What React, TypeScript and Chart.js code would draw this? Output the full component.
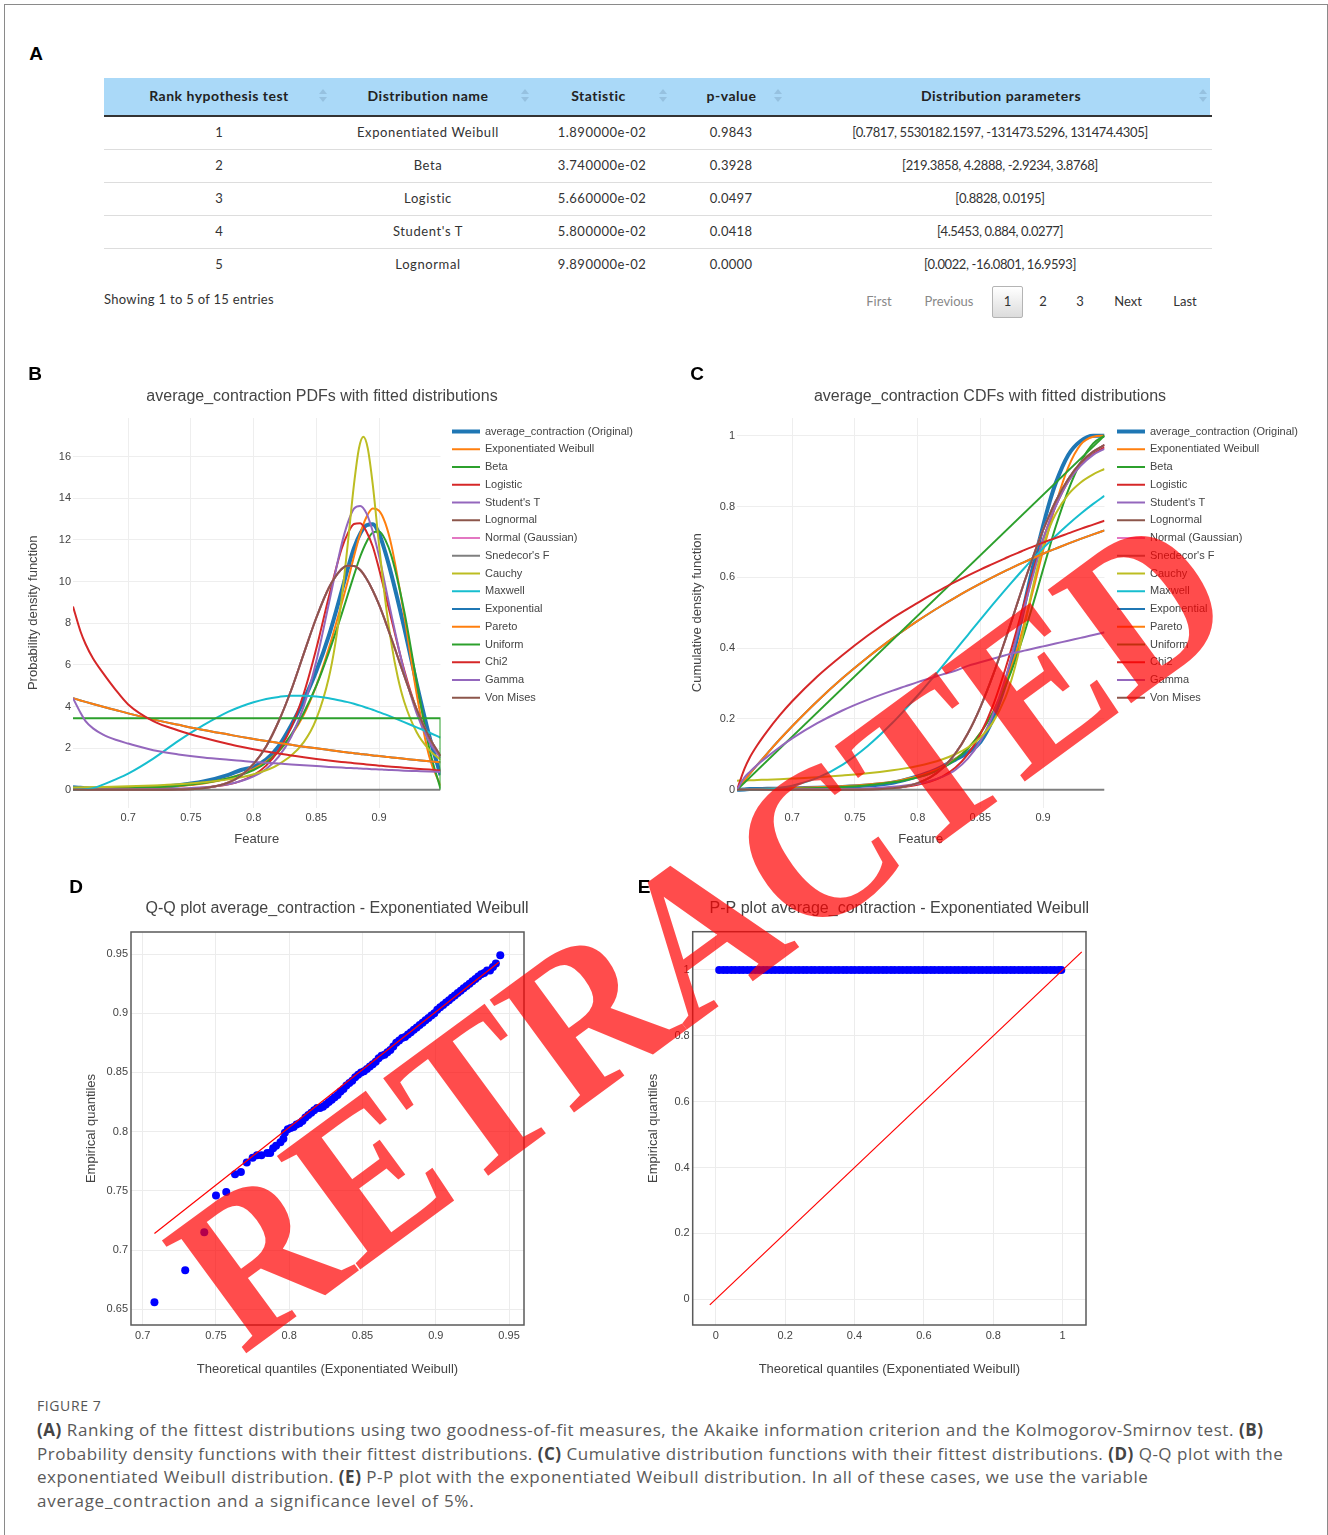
import React, { useEffect, useRef } from 'react';
import { Chart, registerables } from 'chart.js';

Chart.register(...registerables);

const SANS = '"Liberation Sans", Arial, Helvetica, sans-serif';
const TABLE_FONT = 'Lato, "Open Sans", sans-serif';
const CAPTION_FONT = '"Open Sans", Lato, sans-serif';

Chart.defaults.font.family = SANS;
Chart.defaults.color = '#444';

/* ---------------- Panel A: ranking table ---------------- */
const TABLE_HEADERS = ['Rank hypothesis test', 'Distribution name', 'Statistic', 'p-value', 'Distribution parameters'];
const TABLE_RANKS = ['1', '2', '3', '4', '5'];
const TABLE_NAMES = ['Exponentiated Weibull', 'Beta', 'Logistic', "Student's T", 'Lognormal'];
const TABLE_STATISTICS = ['1.890000e-02', '3.740000e-02', '5.660000e-02', '5.800000e-02', '9.890000e-02'];
const TABLE_PVALUES = ['0.9843', '0.3928', '0.0497', '0.0418', '0.0000'];
const TABLE_PARAMETERS = [
  '[0.7817, 5530182.1597, -131473.5296, 131474.4305]',
  '[219.3858, 4.2888, -2.9234, 3.8768]',
  '[0.8828, 0.0195]',
  '[4.5453, 0.884, 0.0277]',
  '[0.0022, -16.0801, 16.9593]',
];
const TABLE_INFO = 'Showing 1 to 5 of 15 entries';
const PAGINATION = ['First', 'Previous', '1', '2', '3', 'Next', 'Last'];

/* ---------------- Panels B & C: fitted distributions ---------------- */
const SERIES_NAMES = [
  'average_contraction (Original)', 'Exponentiated Weibull', 'Beta', 'Logistic', "Student's T", 'Lognormal',
  'Normal (Gaussian)', "Snedecor's F", 'Cauchy', 'Maxwell', 'Exponential', 'Pareto', 'Uniform', 'Chi2', 'Gamma', 'Von Mises',
];
const SERIES_COLORS = [
  '#1f77b4', '#ff7f0e', '#2ca02c', '#d62728', '#9467bd', '#8c564b', '#e377c2', '#7f7f7f',
  '#bcbd22', '#17becf', '#1f77b4', '#ff7f0e', '#2ca02c', '#d62728', '#9467bd', '#8c564b',
];

const GRID_X = [0.656, 0.662, 0.666, 0.672, 0.68, 0.69, 0.70, 0.72, 0.74, 0.76, 0.78, 0.79, 0.80, 0.81, 0.82, 0.83,
  0.84, 0.85, 0.86, 0.87, 0.875, 0.88, 0.885, 0.89, 0.895, 0.90, 0.905, 0.91, 0.92, 0.93, 0.94, 0.949];
const FLAT_X = [0.656, 0.949];
const UNIFORM_PDF_X = [0.656, 0.949, 0.949];
const CAUCHY_PDF_X = [0.656, 0.68, 0.70, 0.72, 0.74, 0.76, 0.78, 0.80, 0.82, 0.84, 0.85, 0.86, 0.865, 0.87, 0.875,
  0.88, 0.884, 0.8875, 0.891, 0.895, 0.90, 0.905, 0.91, 0.915, 0.92, 0.93, 0.94, 0.949];

const PDF_ORIGINAL = [0.12, 0.1, 0.08, 0.06, 0.05, 0.05, 0.06, 0.12, 0.22, 0.4, 0.72, 0.95, 1.1, 1.45, 2.1, 3.1,
  4.3, 5.7, 7.4, 9.5, 10.6, 11.6, 12.3, 12.7, 12.75, 12.3, 11.4, 10.3, 7.8, 5.1, 2.6, 0.7];
const PDF_EXP_WEIBULL = [0.08, 0.08, 0.08, 0.08, 0.09, 0.09, 0.1, 0.12, 0.18, 0.3, 0.55, 0.75, 1.0, 1.35, 1.85, 2.6,
  3.6, 5.0, 6.8, 8.9, 10.0, 11.2, 12.3, 13.1, 13.5, 13.4, 12.8, 11.7, 8.4, 4.6, 1.6, 0.2];
const PDF_BETA = [0.05, 0.05, 0.05, 0.05, 0.06, 0.07, 0.08, 0.12, 0.2, 0.32, 0.55, 0.72, 0.95, 1.3, 1.85, 2.65,
  3.7, 5.0, 6.6, 8.4, 9.35, 10.3, 11.2, 11.9, 12.35, 12.4, 12.0, 11.2, 8.6, 5.2, 2.0, 0.05];
const PDF_LOGISTIC = [0, 0, 0, 0, 0.001, 0.002, 0.004, 0.012, 0.034, 0.095, 0.26, 0.43, 0.71, 1.16, 1.9, 3.0,
  4.62, 6.78, 9.27, 11.54, 12.3, 12.76, 12.8, 12.39, 11.68, 10.6, 9.4, 8.16, 5.76, 3.84, 2.47, 1.62];
const PDF_STUDENT_T = [0.006, 0.007, 0.008, 0.009, 0.011, 0.014, 0.019, 0.035, 0.06, 0.12, 0.27, 0.42, 0.64, 1.0, 1.59, 2.55,
  4.02, 6.18, 8.94, 11.74, 12.8, 13.5, 13.63, 13.27, 12.4, 11.22, 9.8, 8.36, 5.69, 3.67, 2.31, 1.52];
const PDF_NORMAL = [0, 0, 0, 0, 0, 0, 0, 0.001, 0.011, 0.073, 0.35, 0.68, 1.24, 2.08, 3.29, 4.79,
  6.54, 8.26, 9.7, 10.59, 10.76, 10.75, 10.55, 10.13, 9.57, 8.89, 8.09, 7.24, 5.49, 3.86, 2.53, 1.62];
const PDF_LOGNORMAL = PDF_NORMAL;
const PDF_VON_MISES = PDF_NORMAL;
const PDF_SNEDECOR_F = [0, 0];
const PDF_CAUCHY = [0.11, 0.135, 0.168, 0.21, 0.27, 0.36, 0.5, 0.745, 1.22, 2.29, 3.4, 5.39, 6.97, 9.08, 11.76,
  14.65, 16.4, 16.95, 16.4, 14.65, 11.76, 9.08, 6.97, 5.39, 4.24, 2.76, 1.92, 1.44];
const PDF_MAXWELL = [0, 0.01, 0.03, 0.08, 0.25, 0.5, 0.78, 1.5, 2.35, 3.1, 3.75, 4.0, 4.2, 4.36, 4.46, 4.52,
  4.52, 4.48, 4.4, 4.28, 4.21, 4.13, 4.04, 3.94, 3.84, 3.73, 3.62, 3.5, 3.25, 3.0, 2.75, 2.5];
const PDF_EXPONENTIAL = [4.4, 4.29, 4.22, 4.12, 3.99, 3.83, 3.67, 3.38, 3.12, 2.87, 2.65, 2.54, 2.44, 2.34, 2.25, 2.16,
  2.07, 1.99, 1.91, 1.83, 1.79, 1.76, 1.72, 1.69, 1.65, 1.62, 1.59, 1.55, 1.49, 1.43, 1.37, 1.32];
const PDF_PARETO = PDF_EXPONENTIAL;
const PDF_UNIFORM = [3.43, 3.43, 0];
const PDF_CHI2 = [8.8, 7.6, 7.0, 6.3, 5.6, 4.8, 4.1, 3.3, 2.85, 2.5, 2.2, 2.07, 1.95, 1.84, 1.74, 1.65,
  1.56, 1.48, 1.41, 1.34, 1.31, 1.28, 1.25, 1.22, 1.19, 1.16, 1.13, 1.11, 1.06, 1.01, 0.97, 0.93];
const PDF_GAMMA = [4.4, 3.7, 3.3, 2.95, 2.65, 2.4, 2.22, 1.9, 1.7, 1.55, 1.44, 1.39, 1.34, 1.3, 1.26, 1.22,
  1.18, 1.14, 1.1, 1.07, 1.05, 1.04, 1.02, 1.01, 0.99, 0.98, 0.96, 0.95, 0.92, 0.9, 0.88, 0.86];

const CDF_ORIGINAL = [0, 0.001, 0.002, 0.002, 0.003, 0.003, 0.004, 0.006, 0.008, 0.012, 0.02, 0.028, 0.038, 0.05, 0.066, 0.085,
  0.105, 0.135, 0.2, 0.3, 0.365, 0.44, 0.52, 0.6, 0.675, 0.745, 0.81, 0.865, 0.945, 0.985, 1.0, 1.0];
const CDF_EXP_WEIBULL = [0, 0.001, 0.001, 0.002, 0.003, 0.004, 0.005, 0.007, 0.01, 0.015, 0.023, 0.03, 0.038, 0.05, 0.065, 0.087,
  0.117, 0.16, 0.22, 0.3, 0.35, 0.405, 0.47, 0.535, 0.605, 0.675, 0.74, 0.805, 0.91, 0.975, 0.997, 1.0];
const CDF_BETA = [0, 0, 0.001, 0.001, 0.002, 0.002, 0.003, 0.005, 0.008, 0.013, 0.021, 0.027, 0.035, 0.046, 0.062, 0.085,
  0.116, 0.16, 0.218, 0.293, 0.338, 0.388, 0.442, 0.5, 0.56, 0.622, 0.683, 0.742, 0.845, 0.925, 0.978, 1.0];
const CDF_LOGISTIC = [0, 0, 0, 0, 0, 0, 0.0001, 0.0002, 0.0007, 0.0018, 0.005, 0.0085, 0.014, 0.023, 0.038, 0.062,
  0.1, 0.157, 0.237, 0.342, 0.401, 0.464, 0.528, 0.591, 0.652, 0.707, 0.757, 0.801, 0.871, 0.918, 0.949, 0.967];
const CDF_STUDENT_T = [0.0003, 0.0003, 0.0004, 0.0004, 0.0005, 0.0006, 0.0008, 0.0013, 0.0022, 0.004, 0.0085, 0.012, 0.017, 0.025, 0.037, 0.056,
  0.088, 0.137, 0.212, 0.315, 0.378, 0.446, 0.514, 0.58, 0.643, 0.705, 0.757, 0.8, 0.87, 0.915, 0.946, 0.963];
const CDF_NORMAL = [0, 0, 0, 0, 0, 0, 0, 0, 0.0001, 0.0008, 0.0044, 0.0094, 0.0188, 0.0352, 0.0618, 0.102,
  0.159, 0.233, 0.323, 0.425, 0.478, 0.532, 0.586, 0.637, 0.687, 0.733, 0.775, 0.814, 0.877, 0.924, 0.955, 0.974];
const CDF_LOGNORMAL = CDF_NORMAL;
const CDF_VON_MISES = CDF_NORMAL;
const CDF_SNEDECOR_F = [0, 0];
const CDF_CAUCHY = [0.0257, 0.0264, 0.0268, 0.0276, 0.0286, 0.03, 0.0317, 0.0355, 0.0404, 0.0464, 0.055, 0.0605, 0.0672, 0.0755, 0.0863, 0.1003,
  0.1194, 0.1476, 0.1904, 0.2609, 0.3128, 0.3789, 0.4578, 0.5423, 0.6211, 0.6872, 0.7391, 0.7789, 0.8336, 0.868, 0.8909, 0.906];
const CDF_MAXWELL = [0, 0, 0.0001, 0.0004, 0.0016, 0.0053, 0.0115, 0.0335, 0.0706, 0.1232, 0.1893, 0.2268, 0.2663, 0.3076, 0.3502, 0.3935,
  0.4371, 0.4806, 0.5234, 0.5653, 0.5858, 0.606, 0.6256, 0.6449, 0.6636, 0.6819, 0.6996, 0.7168, 0.7494, 0.7796, 0.8074, 0.8302];
const CDF_EXPONENTIAL = [0, 0.0266, 0.044, 0.0695, 0.1024, 0.1419, 0.1796, 0.2502, 0.3147, 0.3737, 0.4276, 0.4528, 0.4769, 0.5, 0.5219, 0.5429,
  0.5631, 0.5823, 0.6007, 0.6183, 0.6267, 0.635, 0.6432, 0.6511, 0.6589, 0.6665, 0.6739, 0.6811, 0.6952, 0.7086, 0.7214, 0.7325];
const CDF_PARETO = CDF_EXPONENTIAL;
const CDF_UNIFORM = [0, 1];
const CDF_CHI2 = [0, 0.06, 0.09, 0.125, 0.165, 0.21, 0.25, 0.32, 0.38, 0.435, 0.485, 0.507, 0.528, 0.549, 0.568, 0.587,
  0.605, 0.622, 0.638, 0.654, 0.662, 0.669, 0.677, 0.684, 0.691, 0.698, 0.705, 0.711, 0.724, 0.737, 0.749, 0.76];
const CDF_GAMMA = [0, 0.035, 0.05, 0.07, 0.093, 0.12, 0.145, 0.188, 0.224, 0.254, 0.28, 0.292, 0.304, 0.315, 0.326, 0.336,
  0.35, 0.36, 0.37, 0.38, 0.385, 0.389, 0.393, 0.397, 0.401, 0.405, 0.409, 0.413, 0.421, 0.429, 0.437, 0.445];

const DENSITY_X_TICKS = [0.7, 0.75, 0.8, 0.85, 0.9];
const PDF_Y_TICKS = [0, 2, 4, 6, 8, 10, 12, 14, 16];
const CDF_Y_TICKS = [0, 0.2, 0.4, 0.6, 0.8, 1];

/* ---------------- Panels D & E: Q-Q and P-P ---------------- */
const QQ_POINTS = [
  [0.708, 0.656], [0.729, 0.683], [0.742, 0.715], [0.750, 0.746], [0.757, 0.749], [0.763, 0.764], [0.767, 0.766],
  [0.771, 0.774], [0.775, 0.778], [0.778, 0.780], [0.781, 0.780], [0.785, 0.782], [0.787, 0.782], [0.789, 0.786],
  [0.791, 0.788], [0.794, 0.791], [0.796, 0.794], [0.797, 0.799], [0.799, 0.802], [0.801, 0.803], [0.803, 0.804],
  [0.805, 0.806], [0.807, 0.807], [0.809, 0.809], [0.811, 0.812], [0.813, 0.814], [0.815, 0.816], [0.817, 0.818],
  [0.819, 0.820], [0.821, 0.820], [0.823, 0.821], [0.825, 0.823], [0.827, 0.825], [0.829, 0.827], [0.831, 0.829],
  [0.833, 0.831], [0.835, 0.834], [0.837, 0.836], [0.839, 0.839], [0.841, 0.841], [0.843, 0.843], [0.845, 0.846],
  [0.847, 0.848], [0.849, 0.850], [0.851, 0.851], [0.853, 0.853], [0.855, 0.855], [0.857, 0.857], [0.859, 0.859],
  [0.861, 0.862], [0.863, 0.864], [0.865, 0.865], [0.867, 0.867], [0.869, 0.869], [0.871, 0.872], [0.873, 0.875],
  [0.875, 0.877], [0.877, 0.879], [0.879, 0.880], [0.881, 0.882], [0.883, 0.884], [0.885, 0.886], [0.887, 0.888],
  [0.889, 0.890], [0.891, 0.892], [0.893, 0.894], [0.895, 0.896], [0.897, 0.898], [0.899, 0.900], [0.901, 0.903],
  [0.903, 0.905], [0.905, 0.907], [0.907, 0.909], [0.909, 0.911], [0.911, 0.913], [0.913, 0.915], [0.915, 0.917],
  [0.917, 0.919], [0.919, 0.921], [0.921, 0.923], [0.923, 0.925], [0.925, 0.927], [0.927, 0.929], [0.929, 0.931],
  [0.931, 0.933], [0.933, 0.934], [0.935, 0.936], [0.937, 0.936], [0.939, 0.939], [0.941, 0.942], [0.944, 0.949],
];
const QQ_LINE_X = [0.708, 0.943];
const QQ_LINE_Y = [0.714, 0.943];
const QQ_X_TICKS = [0.7, 0.75, 0.8, 0.85, 0.9, 0.95];
const QQ_Y_TICKS = [0.65, 0.7, 0.75, 0.8, 0.85, 0.9, 0.95];

const PP_POINTS = [
  [0.010, 1], [0.022, 1], [0.033, 1], [0.045, 1], [0.056, 1], [0.068, 1], [0.079, 1], [0.091, 1], [0.102, 1], [0.114, 1],
  [0.125, 1], [0.137, 1], [0.148, 1], [0.160, 1], [0.171, 1], [0.183, 1], [0.194, 1], [0.206, 1], [0.217, 1], [0.229, 1],
  [0.240, 1], [0.252, 1], [0.263, 1], [0.275, 1], [0.286, 1], [0.298, 1], [0.309, 1], [0.321, 1], [0.332, 1], [0.344, 1],
  [0.355, 1], [0.367, 1], [0.378, 1], [0.390, 1], [0.401, 1], [0.413, 1], [0.424, 1], [0.436, 1], [0.447, 1], [0.459, 1],
  [0.470, 1], [0.482, 1], [0.493, 1], [0.505, 1], [0.516, 1], [0.528, 1], [0.539, 1], [0.551, 1], [0.562, 1], [0.574, 1],
  [0.585, 1], [0.597, 1], [0.608, 1], [0.620, 1], [0.631, 1], [0.643, 1], [0.654, 1], [0.666, 1], [0.677, 1], [0.689, 1],
  [0.700, 1], [0.712, 1], [0.723, 1], [0.735, 1], [0.746, 1], [0.758, 1], [0.769, 1], [0.781, 1], [0.792, 1], [0.804, 1],
  [0.815, 1], [0.827, 1], [0.838, 1], [0.850, 1], [0.861, 1], [0.873, 1], [0.884, 1], [0.896, 1], [0.907, 1], [0.919, 1],
  [0.930, 1], [0.942, 1], [0.953, 1], [0.965, 1], [0.976, 1], [0.988, 1], [0.996, 1],
];
const PP_LINE_X = [-0.017, 1.055];
const PP_LINE_Y = [-0.017, 1.055];
const PP_X_TICKS = [0, 0.2, 0.4, 0.6, 0.8, 1];
const PP_Y_TICKS = [0, 0.2, 0.4, 0.6, 0.8, 1];

/* ---------------- helpers ---------------- */
type XY = { x: number; y: number };
const toPoints = (xs: number[], ys: number[]): XY[] => xs.map((x, i) => ({ x, y: ys[i] }));

const PDF_SERIES: [number[], number[]][] = [
  [GRID_X, PDF_ORIGINAL], [GRID_X, PDF_EXP_WEIBULL], [GRID_X, PDF_BETA], [GRID_X, PDF_LOGISTIC],
  [GRID_X, PDF_STUDENT_T], [GRID_X, PDF_LOGNORMAL], [GRID_X, PDF_NORMAL], [FLAT_X, PDF_SNEDECOR_F],
  [CAUCHY_PDF_X, PDF_CAUCHY], [GRID_X, PDF_MAXWELL], [GRID_X, PDF_EXPONENTIAL], [GRID_X, PDF_PARETO],
  [UNIFORM_PDF_X, PDF_UNIFORM], [GRID_X, PDF_CHI2], [GRID_X, PDF_GAMMA], [GRID_X, PDF_VON_MISES],
];
const CDF_SERIES: [number[], number[]][] = [
  [GRID_X, CDF_ORIGINAL], [GRID_X, CDF_EXP_WEIBULL], [GRID_X, CDF_BETA], [GRID_X, CDF_LOGISTIC],
  [GRID_X, CDF_STUDENT_T], [GRID_X, CDF_LOGNORMAL], [GRID_X, CDF_NORMAL], [FLAT_X, CDF_SNEDECOR_F],
  [GRID_X, CDF_CAUCHY], [GRID_X, CDF_MAXWELL], [GRID_X, CDF_EXPONENTIAL], [GRID_X, CDF_PARETO],
  [FLAT_X, CDF_UNIFORM], [GRID_X, CDF_CHI2], [GRID_X, CDF_GAMMA], [GRID_X, CDF_VON_MISES],
];

const decorPlugin = {
  id: 'decor',
  afterDraw(chart: any, _args: any, opts: any) {
    const ctx = chart.ctx;
    const a = chart.chartArea;
    ctx.save();
    if (opts.frame) {
      ctx.strokeStyle = '#5a5a5a';
      ctx.lineWidth = 1.5;
      ctx.strokeRect(a.left, a.top, a.right - a.left, a.bottom - a.top);
    }
    if (opts.title) {
      ctx.fillStyle = '#444';
      ctx.font = `16px ${SANS}`;
      ctx.textAlign = 'center';
      ctx.textBaseline = 'middle';
      ctx.fillText(opts.title.text, opts.title.x, opts.title.y);
    }
    if (opts.legend) {
      const L = opts.legend;
      ctx.font = `11px ${SANS}`;
      ctx.textAlign = 'left';
      ctx.textBaseline = 'middle';
      chart.data.datasets.forEach((ds: any, i: number) => {
        const y = L.y + i * L.step;
        ctx.strokeStyle = ds.borderColor;
        ctx.lineWidth = ds.borderWidth;
        ctx.beginPath();
        ctx.moveTo(L.x, y);
        ctx.lineTo(L.x + L.len, y);
        ctx.stroke();
        ctx.fillStyle = '#444';
        ctx.fillText(ds.label, L.x + L.len + L.gap, y);
      });
    }
    ctx.restore();
  },
};

const fixedTicks = (values: number[]) => (scale: any) => {
  scale.ticks = values.map((v) => ({ value: v }));
};

function axis(opts: {
  min: number; max: number; ticks: number[]; size: number; horizontal: boolean;
  title: string; titlePad: number; tickPad: number; gridColor: string;
}) {
  return {
    type: 'linear',
    min: opts.min,
    max: opts.max,
    bounds: 'data',
    afterBuildTicks: fixedTicks(opts.ticks),
    afterFit: (s: any) => {
      if (opts.horizontal) s.height = opts.size;
      else s.width = opts.size;
    },
    grid: { color: opts.gridColor, lineWidth: 1, drawTicks: false },
    border: { display: false },
    ticks: {
      padding: opts.tickPad,
      color: '#444',
      font: { family: SANS, size: 11 },
      maxRotation: 0,
      autoSkip: false,
      callback: (v: any) => String(v),
    },
    title: {
      display: true,
      text: opts.title,
      color: '#444',
      font: { family: SANS, size: 13 },
      padding: opts.horizontal ? { top: 0, bottom: opts.titlePad } : { top: opts.titlePad, bottom: 0 },
    },
  };
}

function densityConfig(series: [number[], number[]][], yMin: number, yMax: number, yTicks: number[],
  yTitle: string, title: string, titleX: number, legendX: number) {
  return {
    type: 'line',
    data: {
      datasets: series.map(([xs, ys], i) => {
        const smooth = xs.length > 3;
        return {
          label: SERIES_NAMES[i],
          data: toPoints(xs, ys),
          borderColor: SERIES_COLORS[i],
          backgroundColor: SERIES_COLORS[i],
          borderWidth: i === 0 ? 4 : 2,
          pointRadius: 0,
          pointHoverRadius: 0,
          fill: false,
          tension: 0,
          cubicInterpolationMode: smooth ? 'monotone' : 'default',
          order: series.length - i,
        };
      }),
    },
    options: {
      responsive: false,
      animation: false,
      devicePixelRatio: 1,
      events: [],
      layout: { padding: { left: 0, top: 38, right: 223.5, bottom: 0 } },
      plugins: {
        legend: { display: false },
        tooltip: { enabled: false },
        title: { display: false },
        decor: {
          title: { text: title, x: titleX, y: 17 },
          legend: { x: legendX, y: 51.5, step: 17.75, len: 28, gap: 5 },
        },
      },
      scales: {
        x: axis({ min: 0.656, max: 0.949, ticks: DENSITY_X_TICKS, size: 42.5, horizontal: true,
          title: 'Feature', titlePad: 2.9, tickPad: 4, gridColor: '#eeeeee' }),
        y: axis({ min: yMin, max: yMax, ticks: yTicks, size: 73, horizontal: false,
          title: yTitle, titlePad: 25.2, tickPad: 2, gridColor: '#eeeeee' }),
      },
    },
    plugins: [decorPlugin],
  };
}

function probConfig(points: number[][], lineX: number[], lineY: number[], xr: [number, number], yr: [number, number],
  xTicks: number[], yTicks: number[], title: string, titleX: number, pad: { top: number; right: number },
  yWidth: number, yTitlePad: number) {
  return {
    type: 'scatter',
    data: {
      datasets: [
        {
          label: 'reference line',
          data: toPoints(lineX, lineY),
          showLine: true,
          borderColor: '#ff0000',
          backgroundColor: '#ff0000',
          borderWidth: 1.2,
          pointRadius: 0,
          pointHoverRadius: 0,
        },
        {
          label: 'quantiles',
          data: points.map(([x, y]) => ({ x, y })),
          backgroundColor: '#0000ff',
          borderColor: '#0000ff',
          borderWidth: 0,
          pointRadius: 4,
          pointHoverRadius: 4,
        },
      ],
    },
    options: {
      responsive: false,
      animation: false,
      devicePixelRatio: 1,
      events: [],
      layout: { padding: { left: 0, top: pad.top, right: pad.right, bottom: 0 } },
      plugins: {
        legend: { display: false },
        tooltip: { enabled: false },
        title: { display: false },
        decor: { frame: true, title: { text: title, x: titleX, y: 18.3 } },
      },
      scales: {
        x: axis({ min: xr[0], max: xr[1], ticks: xTicks, size: 65, horizontal: true,
          title: 'Theoretical quantiles (Exponentiated Weibull)', titlePad: 12.9, tickPad: 4.4, gridColor: '#ececec' }),
        y: axis({ min: yr[0], max: yr[1], ticks: yTicks, size: yWidth, horizontal: false,
          title: 'Empirical quantiles', titlePad: yTitlePad, tickPad: 3, gridColor: '#ececec' }),
      },
    },
    plugins: [decorPlugin],
  };
}

function ChartCanvas({ make, left, top, width, height }: { make: () => any; left: number; top: number; width: number; height: number }) {
  const ref = useRef<HTMLCanvasElement>(null);
  useEffect(() => {
    if (!ref.current) return;
    const chart = new Chart(ref.current, make());
    return () => chart.destroy();
  }, []);
  return (
    <canvas ref={ref} width={width} height={height}
      style={{ position: 'absolute', left, top, width, height, display: 'block' }} />
  );
}

const Txt = ({ x, y, children, style }: { x: number; y: number; children: any; style?: any }) => (
  <div style={{ position: 'absolute', left: x, top: y, transform: 'translate(-50%, -50%)', whiteSpace: 'nowrap', lineHeight: 1, ...style }}>
    {children}
  </div>
);

const Panel = ({ x, y, label }: { x: number; y: number; label: string }) => (
  <Txt x={x} y={y} style={{ fontFamily: SANS, fontWeight: 700, fontSize: 19, color: '#000' }}>{label}</Txt>
);

const SortIcon = ({ x }: { x: number }) => (
  <div style={{ position: 'absolute', left: x - 4, top: 89 }}>
    <div style={{ width: 0, height: 0, borderLeft: '4px solid transparent', borderRight: '4px solid transparent', borderBottom: '5px solid rgba(70,100,130,0.2)' }} />
    <div style={{ height: 3 }} />
    <div style={{ width: 0, height: 0, borderLeft: '4px solid transparent', borderRight: '4px solid transparent', borderTop: '5px solid rgba(70,100,130,0.2)' }} />
  </div>
);

const HEADER_CENTERS = [219, 428, 598.5, 731.5, 1001];
const BODY_CENTERS = [219, 428, 602, 731, 1000];
const BODY_SPACING = [0, 0.6, 0.5, 0.3, -0.4];
const SORT_ICON_X = [323, 525, 663, 778, 1203];
const ROW_CENTERS = [132, 165, 198, 231, 264];
const PAGINATION_X = [879, 949, 1007.5, 1043, 1080, 1128, 1185];

function Table() {
  const columns = [TABLE_RANKS, TABLE_NAMES, TABLE_STATISTICS, TABLE_PVALUES, TABLE_PARAMETERS];
  const cell = { fontFamily: TABLE_FONT, fontSize: 13, color: '#333' };
  return (
    <>
      <div style={{ position: 'absolute', left: 104, top: 78, width: 1106, height: 38, background: '#aad9f8' }} />
      <div style={{ position: 'absolute', left: 104, top: 115, width: 1108, height: 1.6, background: '#333' }} />
      {TABLE_HEADERS.map((h, i) => (
        <Txt key={h} x={HEADER_CENTERS[i]} y={96} style={{ ...cell, fontSize: 14, fontWeight: 700, color: '#222', letterSpacing: 0.5 }}>{h}</Txt>
      ))}
      {SORT_ICON_X.map((x) => <SortIcon key={x} x={x} />)}
      {ROW_CENTERS.map((y, r) => (
        <React.Fragment key={r}>
          {r < ROW_CENTERS.length - 1 && (
            <div style={{ position: 'absolute', left: 104, top: y + 16.5, width: 1108, height: 1, background: '#dddddd' }} />
          )}
          {columns.map((col, c) => (
            <Txt key={c} x={BODY_CENTERS[c]} y={y} style={{ ...cell, letterSpacing: BODY_SPACING[c] }}>{col[r]}</Txt>
          ))}
        </React.Fragment>
      ))}
      <div style={{ position: 'absolute', left: 104, top: 293, whiteSpace: 'nowrap', lineHeight: 1, letterSpacing: 0.3, ...cell }}>{TABLE_INFO}</div>
      <div style={{ position: 'absolute', left: 992, top: 286, width: 31, height: 32, boxSizing: 'border-box', border: '1px solid #b4b4b4', borderRadius: 2, background: 'linear-gradient(#ffffff, #dcdcdc)' }} />
      {PAGINATION.map((p, i) => (
        <Txt key={p} x={PAGINATION_X[i]} y={301} style={{ ...cell, color: i < 2 ? '#888' : '#333' }}>{p}</Txt>
      ))}
    </>
  );
}

function Caption() {
  const base = {
    position: 'absolute' as const, left: 37, whiteSpace: 'nowrap' as const, fontFamily: CAPTION_FONT,
    fontSize: 17, letterSpacing: 0.55, lineHeight: '23.5px', color: '#5a5a5a',
  };
  const b = { fontWeight: 700, color: '#444' };
  return (
    <>
      <div style={{ position: 'absolute', left: 37, top: 1399, fontFamily: CAPTION_FONT, fontSize: 14, color: '#555', lineHeight: 1, letterSpacing: 0.6 }}>FIGURE 7</div>
      <div style={{ ...base, top: 1418 }}>
        <span style={b}>(A)</span> Ranking of the fittest distributions using two goodness-of-fit measures, the Akaike information criterion and the Kolmogorov-Smirnov test. <span style={b}>(B)</span>
      </div>
      <div style={{ ...base, top: 1441.5, letterSpacing: 0.5 }}>
        Probability density functions with their fittest distributions. <span style={b}>(C)</span> Cumulative distribution functions with their fittest distributions. <span style={b}>(D)</span> Q-Q plot with the
      </div>
      <div style={{ ...base, top: 1465, letterSpacing: 0.5 }}>
        exponentiated Weibull distribution. <span style={b}>(E)</span> P-P plot with the exponentiated Weibull distribution. In all of these cases, we use the variable
      </div>
      <div style={{ ...base, top: 1488.5, letterSpacing: 0.75 }}>
        average_contraction and a significance level of 5%.
      </div>
    </>
  );
}

export default function App() {
  return (
    <div style={{ position: 'absolute', left: 0, top: 0, width: 1328, height: 1535, overflow: 'hidden', background: '#ffffff' }}>
      <div style={{ position: 'absolute', left: 4, top: 4, width: 1324, height: 1600, boxSizing: 'border-box', border: '1.5px solid #8a8a8a' }} />
      <Table />
      <ChartCanvas left={0} top={380} width={664} height={470}
        make={() => densityConfig(PDF_SERIES, -0.85, 17.85, PDF_Y_TICKS, 'Probability density function',
          'average_contraction PDFs with fitted distributions', 322, 452)} />
      <ChartCanvas left={664} top={380} width={664} height={470}
        make={() => densityConfig(CDF_SERIES, -0.05, 1.05, CDF_Y_TICKS, 'Cumulative density function',
          'average_contraction CDFs with fitted distributions', 326, 453)} />
      <ChartCanvas left={40} top={890} width={540} height={500}
        make={() => probConfig(QQ_POINTS, QQ_LINE_X, QQ_LINE_Y, [0.692, 0.9602], [0.6367, 0.9686], QQ_X_TICKS, QQ_Y_TICKS,
          'Q-Q plot average_contraction - Exponentiated Weibull', 297, { top: 42, right: 56 }, 91, 43.9)} />
      <ChartCanvas left={600} top={890} width={540} height={500}
        make={() => probConfig(PP_POINTS, PP_LINE_X, PP_LINE_Y, [-0.0663, 1.0672], [-0.078, 1.1163], PP_X_TICKS, PP_Y_TICKS,
          'P-P plot average_contraction - Exponentiated Weibull', 299.3, { top: 41.7, right: 54 }, 92.7, 45.5)} />
      <Panel x={36} y={53} label="A" />
      <Panel x={35} y={373} label="B" />
      <Panel x={697} y={373} label="C" />
      <Panel x={76} y={886} label="D" />
      <Panel x={644} y={886} label="E" />
      <Caption />
      <div style={{
        position: 'absolute', left: 700, top: 930, transform: 'translate(-50%, -50%) rotate(-36.3deg) scaleX(0.92)',
        fontFamily: '"Liberation Serif", "Times New Roman", serif', fontWeight: 700, fontSize: 215, lineHeight: 1,
        color: 'rgba(255, 0, 0, 0.7)', whiteSpace: 'nowrap', pointerEvents: 'none',
      }}>RETRACTED</div>
    </div>
  );
}
